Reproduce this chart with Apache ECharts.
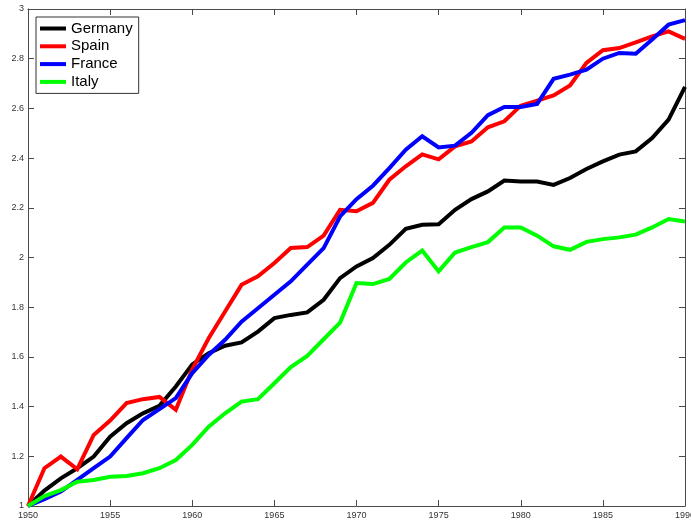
<!DOCTYPE html>
<html>
<head>
<meta charset="utf-8">
<script src="https://cdn.jsdelivr.net/npm/echarts@6/dist/echarts.min.js"></script>
<style>
html,body{margin:0;padding:0;background:#fff;}
#c{width:691px;height:525px;}
</style>
</head>
<body>
<div id="c"></div>
<script>
var years = [];
for (var y = 1950; y <= 1990; y++) years.push(y);

var germany = [1.0,1.062,1.111,1.152,1.199,1.279,1.333,1.373,1.403,1.481,1.570,
  1.615,1.645,1.658,1.702,1.756,1.769,1.779,1.830,1.917,1.964,1.998,2.051,2.115,2.132,2.134,
  2.192,2.235,2.266,2.310,2.306,2.306,2.292,2.320,2.356,2.387,2.414,2.427,2.481,2.555,2.687];
var spain = [1.0,1.152,1.199,1.148,1.286,1.344,1.414,1.430,1.439,1.387,1.550,
  1.675,1.783,1.890,1.924,1.978,2.038,2.042,2.088,2.192,2.186,2.220,2.313,2.367,2.415,2.395,
  2.447,2.467,2.524,2.548,2.611,2.631,2.652,2.692,2.783,2.834,2.843,2.866,2.890,2.910,2.880];
var france = [1.0,1.027,1.058,1.105,1.152,1.199,1.273,1.346,1.390,1.434,1.535,
  1.608,1.669,1.742,1.796,1.850,1.904,1.971,2.038,2.165,2.235,2.289,2.360,2.434,2.488,2.443,
  2.450,2.502,2.573,2.606,2.606,2.618,2.719,2.736,2.756,2.800,2.823,2.820,2.877,2.937,2.955];
var italy = [1.0,1.040,1.064,1.098,1.105,1.118,1.121,1.132,1.152,1.185,1.246,
  1.319,1.373,1.420,1.430,1.494,1.559,1.604,1.671,1.738,1.897,1.893,1.914,1.980,2.028,1.944,
  2.020,2.042,2.062,2.121,2.121,2.088,2.045,2.031,2.063,2.074,2.081,2.092,2.121,2.155,2.145];

var seriesNames = ['Germany','Spain','France','Italy'];
var seriesColors = ['#000000','#ff0000','#0000ff','#00ff00'];
var seriesValues = [germany, spain, france, italy];

function pairs(vals){ return years.map(function(yr,i){ return [yr, vals[i]]; }); }

var FONT = "'Liberation Sans', Arial, Helvetica, sans-serif";
var axisCol = '#4a4a4a';

var chart = echarts.init(document.getElementById('c'), null, {renderer:'canvas'});
var option = {
  animation: false,
  backgroundColor: '#ffffff',
  grid: {left: 28, right: 6, top: 9, bottom: 19, containLabel: false, outerBoundsMode: 'none'},
  legend: {
    data: seriesNames,
    orient: 'vertical',
    left: 36, top: 17,
    icon: 'rect',
    itemWidth: 26, itemHeight: 4,
    itemGap: 2.8,
    padding: [4, 6, 4, 4],
    borderColor: '#333333', borderWidth: 1,
    backgroundColor: '#ffffff',
    textStyle: {fontFamily: FONT, fontSize: 15, lineHeight: 15, color: '#000'}
  },
  xAxis: [{
    type: 'value', min: 1950, max: 1990, interval: 5,
    axisLine: {show: true, onZero: false, lineStyle: {color: axisCol, width: 1}},
    axisTick: {show: true, inside: true, length: 6, lineStyle: {color: axisCol}},
    axisLabel: {fontFamily: FONT, fontSize: 9, color: '#333', margin: 5,
      formatter: function(v){ return String(v); }},
    splitLine: {show: false}
  }, {
    type: 'value', min: 1950, max: 1990, interval: 5, position: 'top',
    axisLine: {show: true, onZero: false, lineStyle: {color: axisCol, width: 1}},
    axisTick: {show: true, inside: true, length: 6, lineStyle: {color: axisCol}},
    axisLabel: {show: false},
    splitLine: {show: false}
  }],
  yAxis: [{
    type: 'value', min: 1, max: 3, interval: 0.2,
    axisLine: {show: true, onZero: false, lineStyle: {color: axisCol, width: 1}},
    axisTick: {show: true, inside: true, length: 6, lineStyle: {color: axisCol}},
    axisLabel: {fontFamily: FONT, fontSize: 9, color: '#333', margin: 4,
      formatter: function(v){ return String(Math.round(v*10)/10); }},
    splitLine: {show: false}
  }, {
    type: 'value', min: 1, max: 3, interval: 0.2, position: 'right',
    axisLine: {show: true, onZero: false, lineStyle: {color: axisCol, width: 1}},
    axisTick: {show: true, inside: true, length: 6, lineStyle: {color: axisCol}},
    axisLabel: {show: false},
    splitLine: {show: false}
  }],
  series: seriesNames.map(function(name, i){
    return {
      name: name, type: 'line',
      xAxisIndex: 0, yAxisIndex: 0,
      data: pairs(seriesValues[i]),
      showSymbol: false, symbol: 'none',
      itemStyle: {color: seriesColors[i]},
      lineStyle: {color: seriesColors[i], width: 4, join: 'miter'}
    };
  })
};
chart.setOption(option);
</script>
</body>
</html>
